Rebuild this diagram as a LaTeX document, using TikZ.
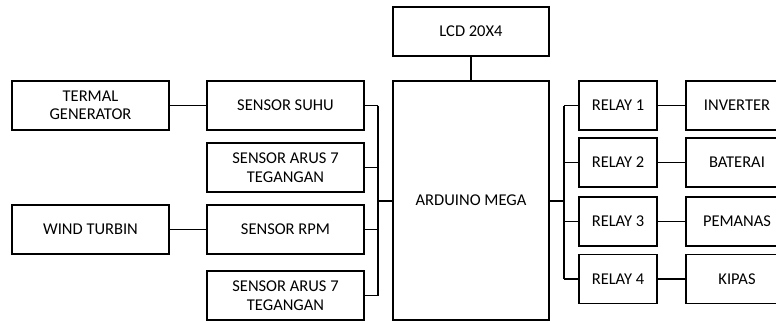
\documentclass[tikz,border=0pt]{standalone}
\usepackage{fontspec}
\setmainfont{Carlito}
\begin{document}
\begin{tikzpicture}[x=1pt,y=-1pt,
  box/.style={draw,line width=1.1pt,align=center,inner sep=0pt,minimum height=49pt,
    font=\fontsize{16.5}{18.5}\selectfont},
  wide/.style={box,minimum width=157pt},
  relaybox/.style={box,minimum width=78pt},
  devbox/.style={box,minimum width=102pt},
  wire/.style={line width=1.1pt},
  bigwire/.style={line width=2pt}]
\useasboundingbox (0,0) rectangle (776,322);
% left column
\node[wide] (tg) at (90.5,105.5) {TERMAL\\GENERATOR};
\node[wide] (wt) at (90.5,229.5) {WIND TURBIN};
% sensors
\node[wide] (s1) at (285.5,105.5) {SENSOR SUHU};
\node[wide] (s2) at (285.5,167.5) {SENSOR ARUS 7\\TEGANGAN};
\node[wide] (s3) at (285.5,229.5) {SENSOR RPM};
\node[wide] (s4) at (285.5,295.5) {SENSOR ARUS 7\\TEGANGAN};
% arduino and lcd
\node[box,minimum width=156pt] (lcd) at (471,31.5) {LCD 20X4};
\node[box,minimum width=156pt,minimum height=239pt] (ard) at (471,200.5) {ARDUINO MEGA};
% relays
\node[relaybox] (r1) at (618,105.5) {RELAY 1};
\node[relaybox] (r2) at (618,162.5) {RELAY 2};
\node[relaybox] (r3) at (618,221.5) {RELAY 3};
\node[relaybox] (r4) at (618,279) {RELAY 4};
% devices
\node[devbox] (d1) at (737,105.5) {INVERTER};
\node[devbox] (d2) at (737,162.5) {BATERAI};
\node[devbox] (d3) at (737,221.5) {PEMANAS};
\node[devbox] (d4) at (737,279) {KIPAS};
% bus coordinates
\coordinate (lbx) at (378,0);
\coordinate (rbx) at (564,0);
% connectors
\draw[wire] (tg) -- (s1);
\draw[wire] (wt) -- (s3);
\draw[wire] (lcd) -- (ard);
\foreach \s in {s1,s2,s3,s4}{\draw[wire] (\s.east) -- (\s.east -| lbx);}
\draw[wire] (s1.east -| lbx) -- (s4.east -| lbx);
\draw[bigwire] (ard.west) -- (ard.west -| lbx);
\foreach \r in {r1,r2,r3,r4}{\draw[wire] (\r.west) -- (\r.west -| rbx);}
\draw[wire] (r1.west -| rbx) -- (r4.west -| rbx);
\draw[bigwire] (ard.east) -- (ard.east -| rbx);
\draw[wire] (r1) -- (d1);
\draw[wire] (r2) -- (d2);
\draw[wire] (r3) -- (d3);
\draw[wire] (r4) -- (d4);
\end{tikzpicture}
\end{document}
